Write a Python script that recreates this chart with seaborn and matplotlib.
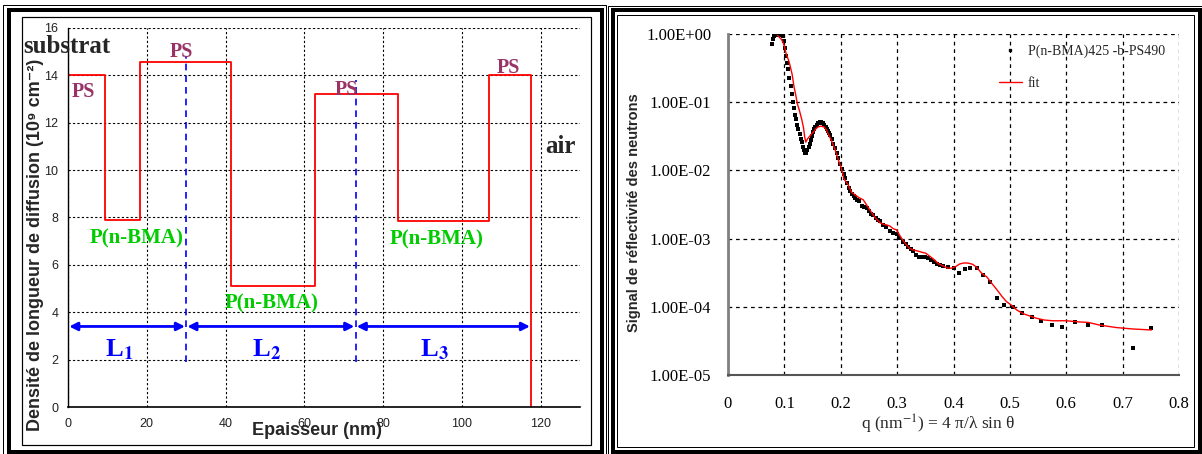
import numpy as np
import pandas as pd
import matplotlib
matplotlib.use("Agg")
import matplotlib.pyplot as plt
import seaborn as sns
from matplotlib.patches import Rectangle
from matplotlib.ticker import MultipleLocator, FuncFormatter, NullLocator, FixedLocator
from matplotlib.lines import Line2D

# ----------------------------
# data
# ----------------------------
# left: scattering length density profile (step profile)
profile_x_nm = [0, 0, 9.4, 18.4, 41.4, 62.6, 83.7, 107.0, 117.6, 117.6]
profile_sld = [16, 14, 7.9, 14.55, 5.1, 13.2, 7.85, 14.0, 14.0, 0]

layer_bounds = [0, 30, 73, 117.6]
layer_subs = ["1", "2", "3"]
layer_label_x = [12.9, 50.3, 93.0]

ps_label_x = [4.0, 28.8, 70.6, 111.7]
ps_label_y = [13.3, 15.0, 13.4, 14.3]
pbma_label_x = [17.4, 51.6, 93.6]
pbma_label_y = [7.1, 4.35, 7.08]

# right: neutron reflectivity data and fit
q_data = [0.078, 0.080, 0.081, 0.083, 0.085, 0.087, 0.089, 0.091, 0.093, 0.095,
          0.097, 0.099, 0.101, 0.103, 0.105, 0.107, 0.109, 0.111, 0.113, 0.115,
          0.117, 0.119, 0.121, 0.123, 0.125, 0.127, 0.129, 0.131, 0.133, 0.135,
          0.137, 0.139, 0.141, 0.143, 0.145, 0.147, 0.149, 0.151, 0.153, 0.155,
          0.157, 0.159, 0.161, 0.163, 0.165, 0.167, 0.169, 0.171, 0.173, 0.175,
          0.177, 0.179, 0.181, 0.184, 0.187, 0.190, 0.193, 0.196, 0.199, 0.202,
          0.205, 0.208, 0.211, 0.214, 0.217, 0.220, 0.223, 0.226, 0.229, 0.232,
          0.237, 0.241, 0.246, 0.250, 0.254, 0.258, 0.262, 0.266, 0.270, 0.275,
          0.281, 0.287, 0.293, 0.299, 0.304, 0.311, 0.316, 0.320, 0.325, 0.329,
          0.333, 0.338, 0.344, 0.349, 0.354, 0.360, 0.366, 0.371, 0.376, 0.382,
          0.391, 0.400, 0.410, 0.420, 0.429, 0.441, 0.453, 0.465, 0.477, 0.490,
          0.506, 0.522, 0.540, 0.556, 0.575, 0.593, 0.615, 0.638, 0.663, 0.718,
          0.750]
r_data = [0.72, 0.85, 0.93, 0.97, 0.99, 1.0, 0.98, 1.0, 0.99, 0.97,
          0.93, 0.80, 0.62, 0.48, 0.38, 0.31, 0.23, 0.17, 0.13, 0.10,
          0.083, 0.066, 0.056, 0.047, 0.041, 0.034, 0.029, 0.026, 0.022, 0.020,
          0.018, 0.018, 0.020, 0.022, 0.024, 0.028, 0.032, 0.036, 0.040, 0.044,
          0.047, 0.049, 0.050, 0.051, 0.051, 0.050, 0.049, 0.047, 0.044, 0.041,
          0.038, 0.035, 0.033, 0.029, 0.024, 0.021, 0.018, 0.015, 0.0125, 0.0105,
          0.0088, 0.0077, 0.0065, 0.0056, 0.0050, 0.0045, 0.0042, 0.0040, 0.0037, 0.0035,
          0.0030, 0.0029, 0.0028, 0.0025, 0.0023, 0.0022, 0.0020, 0.0019, 0.0018, 0.0016,
          0.0015, 0.0013, 0.0012, 0.00115, 0.00101, 0.0009, 0.00082, 0.00076, 0.00070, 0.00065,
          0.00058, 0.00054, 0.00053, 0.00053, 0.00052, 0.00049, 0.00046, 0.00043, 0.00041, 0.00039,
          0.00038, 0.00037, 0.00031, 0.00036, 0.00037, 0.00037, 0.00029, 0.00023, 0.000133, 0.000107,
          0.000099, 0.00008, 0.000072, 0.000062, 0.000055, 0.000051, 0.000059, 0.000054, 0.000055, 0.0000249,
          0.0000494]

q_fit = [0.088, 0.092, 0.095, 0.098, 0.100, 0.103, 0.108, 0.111, 0.114, 0.117,
         0.120, 0.123, 0.127, 0.131, 0.134, 0.136, 0.138, 0.141, 0.144, 0.148,
         0.152, 0.156, 0.160, 0.165, 0.170, 0.174, 0.178, 0.183, 0.190, 0.196,
         0.201, 0.206, 0.213, 0.219, 0.225, 0.232, 0.240, 0.246, 0.252, 0.258,
         0.264, 0.270, 0.276, 0.282, 0.287, 0.293, 0.299, 0.305, 0.310, 0.316,
         0.322, 0.329, 0.336, 0.344, 0.351, 0.358, 0.366, 0.373, 0.381, 0.389,
         0.396, 0.404, 0.411, 0.419, 0.426, 0.434, 0.441, 0.450, 0.459, 0.468,
         0.477, 0.486, 0.494, 0.503, 0.512, 0.524, 0.536, 0.547, 0.561, 0.576,
         0.600, 0.623, 0.639, 0.659, 0.689, 0.718, 0.751]
r_fit = [0.95, 0.88, 0.83, 0.74, 0.66, 0.52, 0.40, 0.32, 0.25, 0.17,
         0.13, 0.095, 0.074, 0.055, 0.042, 0.031, 0.026, 0.029, 0.031, 0.034,
         0.037, 0.041, 0.0435, 0.0445, 0.0435, 0.040, 0.034, 0.028, 0.020, 0.014,
         0.0108, 0.0074, 0.0062, 0.0048, 0.0044, 0.0040, 0.0037, 0.0031, 0.0026, 0.0022,
         0.0019, 0.0017, 0.00162, 0.00158, 0.00153, 0.0014, 0.00134, 0.0011, 0.00095, 0.00082,
         0.00072, 0.00068, 0.00066, 0.00063, 0.00061, 0.00055, 0.00049, 0.00043, 0.0004, 0.00037,
         0.000368, 0.00039, 0.000425, 0.00044, 0.000437, 0.00042, 0.00038, 0.00031, 0.000275, 0.00022,
         0.000178, 0.000142, 0.000119, 0.000105, 0.00009, 0.000079, 0.000073, 0.000068, 0.000064, 0.0000624,
         0.0000624, 0.000060, 0.000059, 0.000054, 0.0000496, 0.0000473, 0.0000457]

# ----------------------------
# figure
# ----------------------------
sns.set_style("white")
plt.rcParams["font.family"] = ["Liberation Sans", "DejaVu Sans"]
plt.rcParams["mathtext.fontset"] = "stix"

W, H = 1202, 454
fig = plt.figure(figsize=(W / 100, H / 100), dpi=100)


def px_rect(x0, y0, x1, y1, lw_px, color="black"):
    # rectangle given in pixel coords measured from the top-left corner
    r = Rectangle((x0 / W, 1 - y1 / H), (x1 - x0) / W, (y1 - y0) / H,
                  transform=fig.transFigure, fill=False, lw=lw_px * 0.72,
                  edgecolor=color, clip_on=False)
    fig.patches.append(r)


# panel frames
px_rect(3, 4.5, 606, 460, 1)
px_rect(8.5, 9.5, 601.5, 451.5, 4)
px_rect(21.5, 17, 591, 445, 1.2)
px_rect(608, 6, 1205, 460, 1)
px_rect(612.5, 10, 1199.5, 452, 4)
px_rect(616.5, 15, 1194, 447, 1)

serif = ["Liberation Serif", "DejaVu Serif"]

# ----------------------------
# left: SLD profile
# ----------------------------
ax1 = fig.add_axes([68 / W, 1 - 407 / H, 512 / W, 379 / H])
prof = pd.DataFrame({"x": profile_x_nm, "sld": profile_sld})
sns.lineplot(data=prof, x="x", y="sld", ax=ax1, color="red", lw=1.3,
             estimator=None, sort=False, drawstyle="steps-post")
ax1.set_xlim(0, 130)
ax1.set_ylim(0, 16)
ax1.xaxis.set_major_locator(FixedLocator([0, 20, 40, 60, 80, 100, 120]))
ax1.xaxis.set_minor_locator(FixedLocator(list(range(0, 129, 4))))
ax1.yaxis.set_major_locator(MultipleLocator(2))
ax1.grid(True, which="major", color="black", ls=(0, (2, 2)), lw=0.8)
ax1.tick_params(axis="both", which="both", direction="inout", color="black",
                labelsize=9, labelcolor="#222222")
ax1.tick_params(axis="both", which="major", length=6, width=0.8)
ax1.tick_params(axis="x", which="minor", length=5, width=0.8)
ax1.tick_params(axis="x", pad=5)
ax1.tick_params(axis="y", pad=4)
for s in ["top", "right"]:
    ax1.spines[s].set_visible(False)
ax1.spines["left"].set_color("black")
ax1.spines["bottom"].set_color("black")
ax1.spines["left"].set_linewidth(1.0)
ax1.spines["bottom"].set_linewidth(1.2)

ax1.set_xlabel("Epaisseur (nm)", fontsize=13, fontweight="bold", va="center")
ax1.xaxis.set_label_coords(0.486, -0.062)
ax1.set_ylabel("Densité de longueur de diffusion (10⁹ cm⁻²)", fontsize=13,
               fontweight="bold", va="center")
ax1.yaxis.set_label_coords(-0.0625, 0.427)

# layer boundaries and thickness arrows
ax1.plot([layer_bounds[1]] * 2, [1.9, 14.8], color="blue", ls=(0, (4, 3)), lw=1.2)
ax1.plot([layer_bounds[2]] * 2, [1.9, 13.8], color="blue", ls=(0, (4, 3)), lw=1.2)
for i in range(3):
    ax1.annotate("", xy=(layer_bounds[i] + 0.3, 3.4), xytext=(layer_bounds[i + 1] - 0.3, 3.4),
                 arrowprops=dict(arrowstyle="<|-|>", color="blue", lw=2,
                                 mutation_scale=12, shrinkA=0, shrinkB=0))
    ax1.text(layer_label_x[i], 2.4, "L$_\\mathbf{" + layer_subs[i] + "}$", color="blue",
             fontsize=19, fontweight="bold", family=serif, ha="center", va="center")

for x, y in zip(ps_label_x, ps_label_y):
    ax1.text(x, y, "PS", color="#993366", fontsize=14.5, fontweight="bold",
             family=serif, ha="center", va="center")
for x, y in zip(pbma_label_x, pbma_label_y):
    ax1.text(x, y, "P(n-BMA)", color="#00cc00", fontsize=15, fontweight="bold",
             family=serif, ha="center", va="center")
ax1.text(-0.3, 15.2, "substrat", fontsize=18, fontweight="bold", family=serif,
         ha="center", va="center", clip_on=False)
ax1.text(125, 11.0, "air", fontsize=18, fontweight="bold", family=serif,
         ha="center", va="center", clip_on=False)

# ----------------------------
# right: reflectivity
# ----------------------------
ax2 = fig.add_axes([728 / W, 1 - 375 / H, 451 / W, 341 / H])
sns.scatterplot(x=q_data, y=r_data, ax=ax2, color="black", marker="s", s=6,
                linewidth=0, zorder=3)
sns.lineplot(x=q_fit, y=r_fit, ax=ax2, color="red", lw=1.0, estimator=None,
             sort=False, zorder=4)
ax2.set_yscale("log")
ax2.set_xlim(0, 0.8)
ax2.set_ylim(1e-5, 1)
ax2.xaxis.set_major_locator(MultipleLocator(0.1))
ax2.yaxis.set_major_locator(FixedLocator([1e-5, 1e-4, 1e-3, 1e-2, 1e-1, 1]))
ax2.yaxis.set_minor_locator(NullLocator())
ax2.yaxis.set_major_formatter(FuncFormatter(lambda v, p: f"{v:.2E}"))
ax2.xaxis.set_major_formatter(FuncFormatter(lambda v, p: f"{v:.1f}".rstrip("0").rstrip(".") if v != 0 else "0"))
ax2.grid(True, which="major", color="black", ls=(0, (3, 3)), lw=0.9)
ax2.tick_params(axis="both", which="major", direction="out", length=6, width=1,
                color="#555555", labelsize=12, labelcolor="black")
ax2.tick_params(axis="x", pad=9)
ax2.tick_params(axis="y", pad=6)
for lab in ax2.get_xticklabels() + ax2.get_yticklabels():
    lab.set_family(serif)
for s in ["top", "right"]:
    ax2.spines[s].set_visible(False)
ax2.spines["left"].set_color("#808080")
ax2.spines["left"].set_linewidth(2)
ax2.spines["bottom"].set_color("#555555")
ax2.spines["bottom"].set_linewidth(1.5)

ax2.set_xlabel("q (nm$^{-1}$) = 4 π/λ sin θ", fontsize=12.5, family=serif, va="center")
ax2.xaxis.set_label_coords(0.466, -0.144)
ax2.set_ylabel("Signal de réflectivité des neutrons", fontsize=10.5,
               fontweight="bold", va="center")
ax2.yaxis.set_label_coords(-0.208, 0.475)

handles = [Line2D([], [], color="black", marker="s", ms=2, ls="none"),
           Line2D([], [], color="red", lw=1.0)]
ax2.legend(handles, ["P(n-BMA)425 -b-PS490", "fit"], loc="upper left",
           bbox_to_anchor=(0.6, 0.97), frameon=False, borderpad=0, borderaxespad=0,
           handlelength=1.7, handletextpad=0.4, labelspacing=1.4,
           prop={"family": serif, "size": 10})

fig.savefig("out.png", dpi=100)
